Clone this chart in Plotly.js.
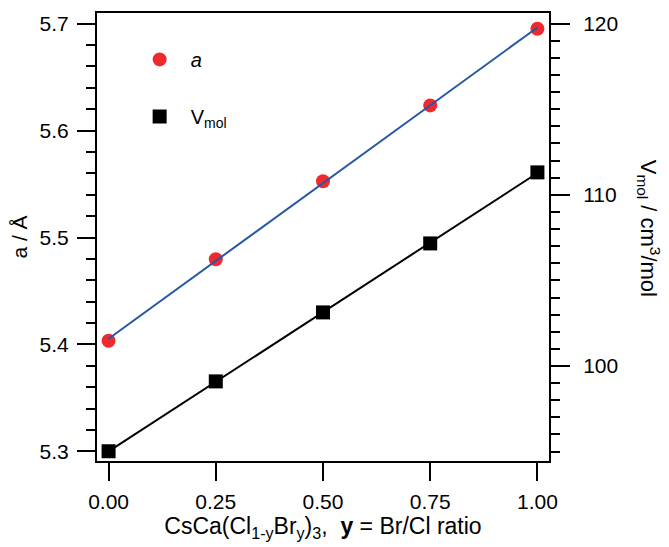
<!DOCTYPE html>
<html>
<head>
<meta charset="utf-8">
<script src="https://cdn.plot.ly/plotly-3.0.1.min.js"></script>
<style>html,body{margin:0;padding:0;background:#fff;}#chart{width:669px;height:547px;}</style>
</head>
<body>
<div id="chart"></div>
<script>
const ratio = [0.00, 0.25, 0.50, 0.75, 1.00];
const latticeA = [5.4034, 5.4797, 5.5526, 5.6236, 5.6953];
const vMol = [95.02, 99.10, 103.13, 107.16, 111.31];
const xTickVals = [0, 0.25, 0.5, 0.75, 1.0];
const xTickText = ["0.00", "0.25", "0.50", "0.75", "1.00"];

function linfit(x, y) {
  const n = x.length;
  let sx = 0, sy = 0, sxx = 0, sxy = 0;
  for (let i = 0; i < n; i++) { sx += x[i]; sy += y[i]; sxx += x[i]*x[i]; sxy += x[i]*y[i]; }
  const m = (n*sxy - sx*sy) / (n*sxx - sx*sx);
  const b = (sy - m*sx) / n;
  return {m, b};
}
const fa = linfit(ratio, latticeA);
const fv = linfit(ratio, vMol);
const xEnds = [ratio[0], ratio[ratio.length-1]];

const font = 'Liberation Sans, Arial, sans-serif';
const traces = [
  {x: ratio, y: latticeA, type: 'scatter', mode: 'markers', name: '<i>a</i>', legendgroup: 'a',
   marker: {symbol: 'circle', size: 14, color: '#ee2a2e'}, xaxis: 'x', yaxis: 'y'},
  {x: ratio, y: vMol, type: 'scatter', mode: 'markers', name: 'V<sub>mol</sub>', legendgroup: 'v',
   marker: {symbol: 'square', size: 14, color: '#000'}, xaxis: 'x', yaxis: 'y2'},
  {x: xEnds, y: xEnds.map(x => fa.m*x + fa.b), type: 'scatter', mode: 'lines', showlegend: false,
   line: {color: '#2557a6', width: 2}, xaxis: 'x', yaxis: 'y'},
  {x: xEnds, y: xEnds.map(x => fv.m*x + fv.b), type: 'scatter', mode: 'lines', showlegend: false,
   line: {color: '#000', width: 2}, xaxis: 'x', yaxis: 'y2'}
];

const layout = {
  width: 669, height: 547,
  margin: {l: 97, r: 120, t: 13, b: 86},
  paper_bgcolor: '#fff', plot_bgcolor: '#fff',
  font: {family: font, size: 21, color: '#000'},
  showlegend: true,
  legend: {x: 0.07, y: 0.94, xanchor: 'left', yanchor: 'top', bgcolor: 'rgba(0,0,0,0)',
           itemwidth: 52,
           font: {family: font, size: 20, color: '#000'}, tracegroupgap: 28, traceorder: 'grouped'},
  xaxis: {
    range: [-0.027, 1.027], tickvals: xTickVals, ticktext: xTickText,
    ticks: 'outside', ticklen: 18, tickwidth: 2, tickcolor: '#000',
    showline: true, linewidth: 2, linecolor: '#000', mirror: true,
    showgrid: false, zeroline: false, ticklabelstandoff: 3,
    tickfont: {family: font, size: 21},
    title: {text: 'CsCa(Cl<sub>1-y</sub>Br<sub>y</sub>)<sub>3</sub>,  <b>y</b> = Br/Cl ratio', font: {family: font, size: 23}, standoff: 2}
  },
  yaxis: {
    range: [5.291, 5.710], dtick: 0.1, tickformat: '.1f',
    ticks: 'outside', ticklen: 18, tickwidth: 2, tickcolor: '#000',
    minor: {dtick: 0.02, ticks: 'outside', ticklen: 9, tickwidth: 2, tickcolor: '#000', showgrid: false},
    showline: true, linewidth: 2, linecolor: '#000', mirror: false,
    showgrid: false, zeroline: false, ticklabelstandoff: 4,
    tickfont: {family: font, size: 21},
    title: {text: 'a / Å', font: {family: font, size: 21}, standoff: 6}
  },
  yaxis2: {
    overlaying: 'y', side: 'right', anchor: 'x',
    range: [94.45, 120.62], dtick: 10,
    ticks: 'outside', ticklen: 19, tickwidth: 2, tickcolor: '#000',
    minor: {dtick: 1, ticks: 'outside', ticklen: 9, tickwidth: 2, tickcolor: '#000', showgrid: false},
    showline: true, linewidth: 2, linecolor: '#000',
    showgrid: false, zeroline: false, ticklabelstandoff: 9,
    tickfont: {family: font, size: 21}
  },
  annotations: [
    {text: 'V<sub>mol</sub> / cm<sup>3</sup>/mol', textangle: 90, xref: 'paper', yref: 'paper',
     x: 1.222, y: 0.52, xanchor: 'center', yanchor: 'middle', showarrow: false,
     font: {family: font, size: 22, color: '#000'}}
  ]
};

Plotly.newPlot('chart', traces, layout, {displayModeBar: false, staticPlot: true});
</script>
</body>
</html>
